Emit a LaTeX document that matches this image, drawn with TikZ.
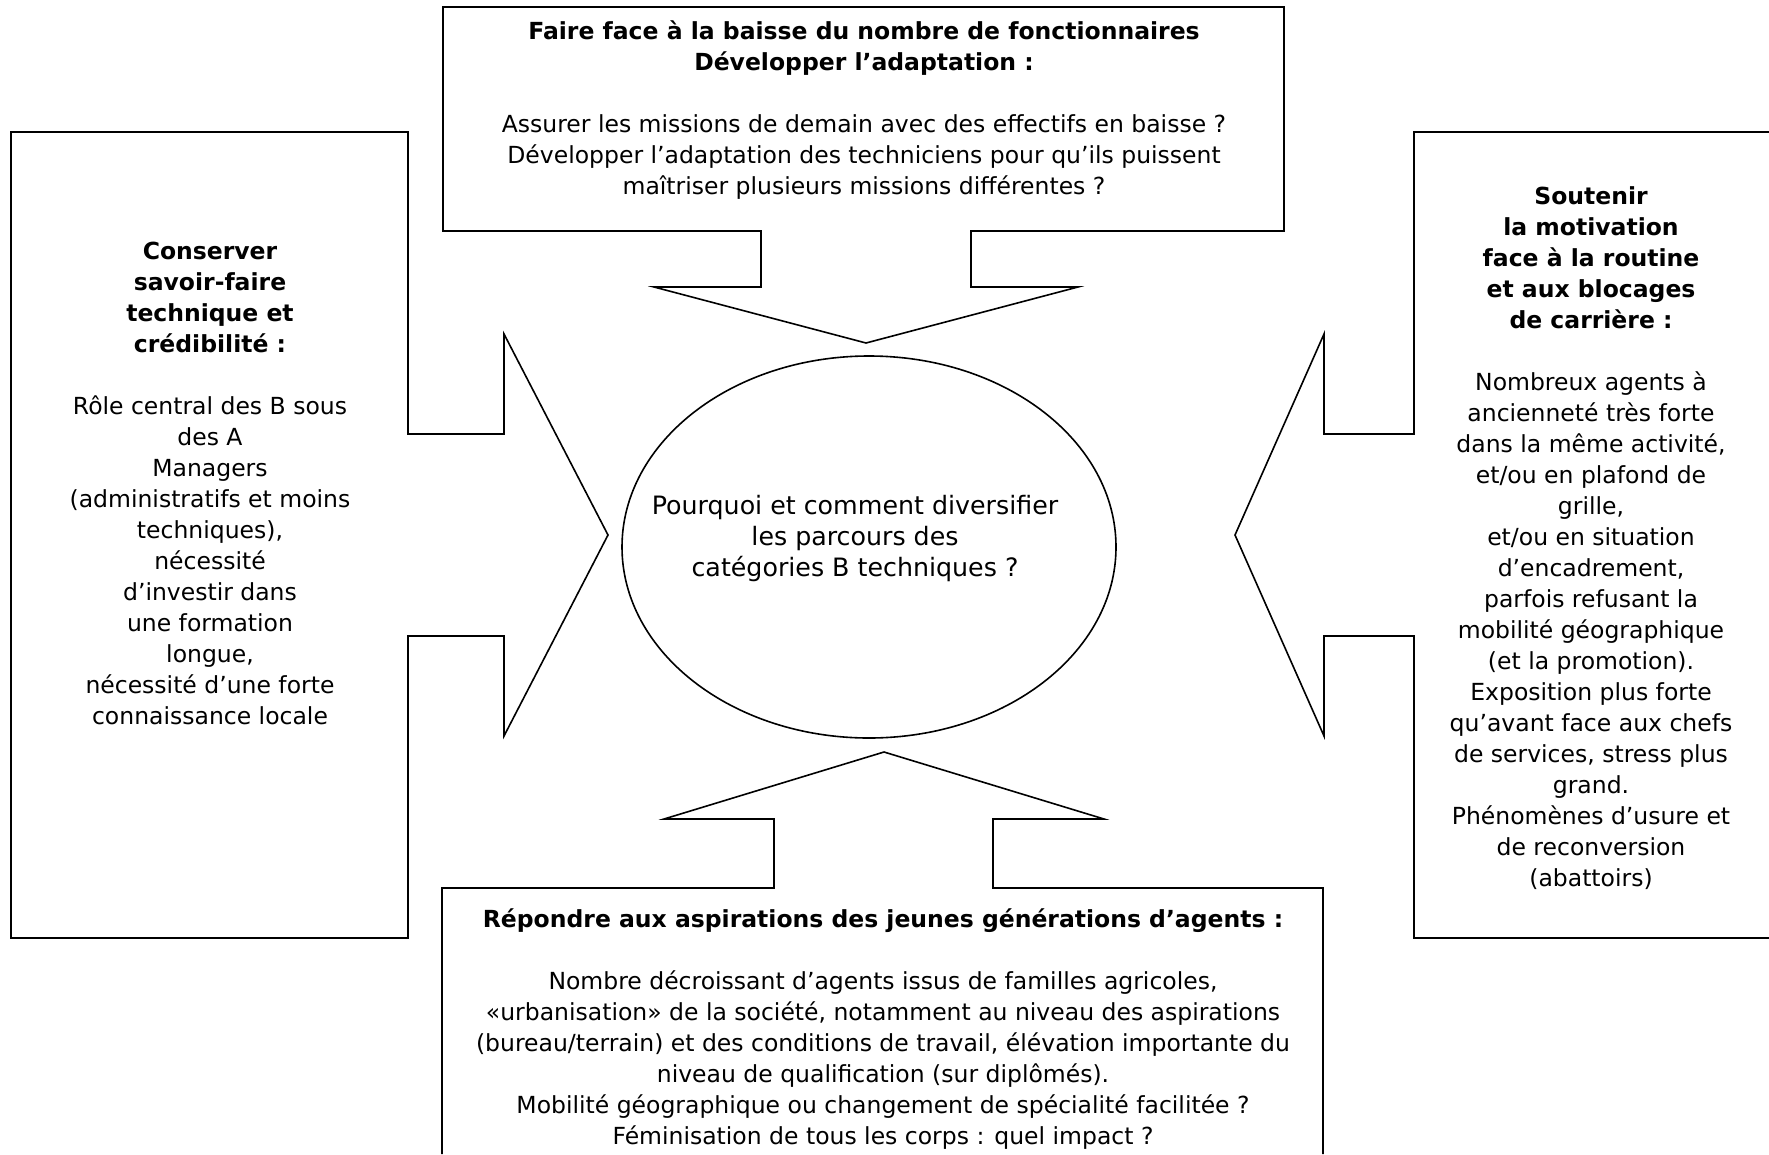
\documentclass[tikz,border=0pt]{standalone}
\usepackage{fontspec}
\setmainfont{DejaVu Sans}
\usetikzlibrary{shapes.geometric}
\tikzset{
	txt/.style = {align=center, inner sep=0pt, font=\fontsize{23.5}{31}\selectfont},
	outline/.style = {draw, line width=1.6pt, line join=miter},
	hub/.style = {ellipse, draw, line width=1.6pt, minimum width=494pt, minimum height=382pt, inner sep=0pt}
}

\begin{document}
\begin{tikzpicture}[x=1pt,y=-1pt]
	\useasboundingbox (0,0) rectangle (1769,1154);
	\node[hub] (hub) at (869,547) {};
	\node[txt, font=\fontsize{25.3}{31}\selectfont] (hubtxt) at (855,539) {Pourquoi et comment diversifier\\les parcours des\\catégories B techniques~?};
	\draw[outline] (443,7) -- (1284,7) -- (1284,231) -- (971,231) -- (971,287) -- (1078,287) -- (866,343)
		-- (654,287) -- (761,287) -- (761,231) -- (443,231) -- cycle;
	\draw[outline] (11,132) -- (408,132) -- (408,434) -- (504,434) -- (504,334) -- (608,535)
		-- (504,736) -- (504,636) -- (408,636) -- (408,938) -- (11,938) -- cycle;
	\draw[outline] (1769,132) -- (1414,132) -- (1414,434) -- (1324,434) -- (1324,334) -- (1235,535)
		-- (1324,736) -- (1324,636) -- (1414,636) -- (1414,938) -- (1769,938);
	\draw[outline] (442,1154) -- (442,888) -- (774,888) -- (774,819) -- (664,819) -- (884,752)
		-- (1104,819) -- (993,819) -- (993,888) -- (1323,888) -- (1323,1154);
	\node[txt] (toptxt) at (864,110) {\textbf{Faire face à la baisse du nombre de fonctionnaires}\\
		\textbf{Développer l’adaptation :}\\[31pt]
		Assurer les missions de demain avec des effectifs en baisse~?\\
		Développer l’adaptation des techniciens pour qu’ils puissent\\
		maîtriser plusieurs missions différentes~?};
	\node[txt] (lefttxt) at (210,483.5) {\textbf{Conserver}\\\textbf{savoir-faire}\\\textbf{technique et}\\\textbf{crédibilité :}\\[31pt]
		Rôle central des B sous\\des A\\Managers\\(administratifs et moins\\techniques),\\nécessité\\d’investir dans\\
		une formation\\longue,\\nécessité d’une forte\\connaissance locale};
	\node[txt] (righttxt) at (1591,538) {\textbf{Soutenir}\\\textbf{la motivation}\\\textbf{face à la routine}\\\textbf{et aux blocages}\\\textbf{de carrière :}\\[31pt]
		Nombreux agents à\\ancienneté très forte\\dans la même activité,\\et/ou en plafond de\\grille,\\et/ou en situation\\
		d’encadrement,\\parfois refusant la\\mobilité géographique\\(et la promotion).\\Exposition plus forte\\
		qu’avant face aux chefs\\de services, stress plus\\grand.\\Phénomènes d’usure et\\de reconversion\\(abattoirs)};
	\node[txt] (bottxt) at (883,1029) {\textbf{Répondre aux aspirations des jeunes générations d’agents :}\\[31pt]
		Nombre décroissant d’agents issus de familles agricoles,\\
		«urbanisation» de la société, notamment au niveau des aspirations\\
		(bureau/terrain) et des conditions de travail, élévation importante du\\
		niveau de qualification (sur diplômés).\\
		Mobilité géographique ou changement de spécialité facilitée~?\\
		Féminisation de tous les corps : quel impact~?};
\end{tikzpicture}
\end{document}
